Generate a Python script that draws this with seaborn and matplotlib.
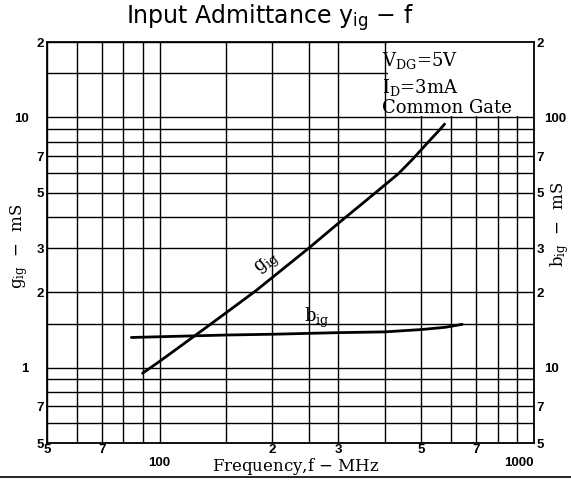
import matplotlib
matplotlib.use("Agg")
import matplotlib.pyplot as plt
from matplotlib.patches import Rectangle
from matplotlib.lines import Line2D
from matplotlib.ticker import FixedLocator, FixedFormatter
import pandas as pd
import seaborn as sns

# --- data ---
g_freq = [90, 100, 135, 180, 250, 305, 365, 434, 476, 519, 559, 577]
g_ig = [0.95, 1.06, 1.47, 2.02, 3.0, 3.85, 4.8, 5.95, 6.85, 7.9, 8.9, 9.4]

b_freq = [84, 150, 200, 300, 400, 500, 580, 643]
b_ig = [13.2, 13.5, 13.6, 13.8, 13.9, 14.2, 14.5, 14.9]

x_major = [100, 1000]
x_major_labels = ["100", "1000"]
x_minor = [50, 60, 70, 80, 90, 150, 200, 250, 300, 400, 500, 600, 700, 800, 900]
x_minor_labels = ["5", "", "7", "", "", "", "2", "", "3", "", "5", "", "7", "", ""]

g_major = [1, 10]
g_major_labels = ["1", "10"]
g_minor = [0.5, 0.6, 0.7, 0.8, 0.9, 1.5, 2, 3, 4, 5, 6, 7, 8, 9, 15, 20]
g_minor_labels = ["5", "", "7", "", "", "", "2", "3", "", "5", "", "7", "", "", "", "2"]

b_major = [10, 100]
b_major_labels = ["10", "100"]
b_minor = [5, 7, 20, 30, 50, 70, 200]
b_minor_labels = ["5", "7", "2", "3", "5", "7", "2"]

g_df = pd.DataFrame({"f": g_freq, "g": g_ig})
b_df = pd.DataFrame({"f": b_freq, "b": b_ig})

sns.set_style("white")
plt.rcParams["font.family"] = ["DejaVu Sans"]
plt.rcParams["mathtext.fontset"] = "dejavuserif"
plt.rcParams["text.color"] = "black"
plt.rcParams["xtick.color"] = "black"
plt.rcParams["ytick.color"] = "black"

fig = plt.figure(figsize=(5.71, 4.93), dpi=100)
ax = fig.add_axes([0.0823, 0.1014, 0.8529, 0.8134])

sns.lineplot(data=g_df, x="f", y="g", ax=ax, color="black", lw=2.0)
ax.set_xscale("log")
ax.set_yscale("log")
ax.set_xlim(50, 1000)
ax.set_ylim(0.5, 20)

tick_font = dict(family="Liberation Sans", weight="bold", size=9.5)

ax.xaxis.set_major_locator(FixedLocator(x_major))
ax.xaxis.set_major_formatter(FixedFormatter(x_major_labels))
ax.xaxis.set_minor_locator(FixedLocator(x_minor))
ax.xaxis.set_minor_formatter(FixedFormatter(x_minor_labels))
ax.yaxis.set_major_locator(FixedLocator(g_major))
ax.yaxis.set_major_formatter(FixedFormatter(g_major_labels))
ax.yaxis.set_minor_locator(FixedLocator(g_minor))
ax.yaxis.set_minor_formatter(FixedFormatter(g_minor_labels))

ax.tick_params(axis="x", which="major", length=0, pad=10)
ax.tick_params(axis="x", which="minor", length=0, pad=1)
ax.tick_params(axis="y", which="major", length=0, pad=13)
ax.tick_params(axis="y", which="minor", length=0, pad=2)
for lab in ax.get_xticklabels(which="both") + ax.get_yticklabels(which="both"):
    lab.set_fontproperties(tick_font)
    lab.set_color("black")
ax.get_xticklabels()[-1].set_horizontalalignment("right")

ax.grid(True, which="both", color="black", lw=1.0)
for s in ax.spines.values():
    s.set_color("black")
    s.set_linewidth(1.3)

# blank area behind the condition text
ax.add_patch(Rectangle((0.70, 0.815), 0.30, 0.185, transform=ax.transAxes,
                       facecolor="white", edgecolor="none", zorder=1))

ax.set_xlabel("")
ax.set_ylabel("")

ax2 = ax.twinx()
sns.lineplot(data=b_df, x="f", y="b", ax=ax2, color="black", lw=2.0)
ax2.set_yscale("log")
ax2.set_ylim(5, 200)
ax2.set_xlim(50, 1000)
ax2.yaxis.set_major_locator(FixedLocator(b_major))
ax2.yaxis.set_major_formatter(FixedFormatter(b_major_labels))
ax2.yaxis.set_minor_locator(FixedLocator(b_minor))
ax2.yaxis.set_minor_formatter(FixedFormatter(b_minor_labels))
ax2.tick_params(axis="y", which="major", length=0, pad=7)
ax2.tick_params(axis="y", which="minor", length=0, pad=2)
for lab in ax2.get_yticklabels(which="both"):
    lab.set_fontproperties(tick_font)
    lab.set_color("black")
ax2.set_ylabel("")
ax2.grid(False)
for s in ax2.spines.values():
    s.set_visible(False)

cond = dict(transform=ax.transAxes, family="DejaVu Serif", fontsize=13,
            va="baseline", zorder=5, color="black")
ax.text(0.688, 0.940, r"V$_{\rm DG}$=5V", **cond)
ax.text(0.688, 0.873, r"I$_{\rm D}$=3mA", **cond)
ax.text(0.688, 0.822, "Common Gate", **cond)

ax.text(195, 2.6, r"$\rm g_{ig}$", family="DejaVu Serif", fontsize=13,
        rotation=38, ha="center", va="center", color="black")
ax2.text(262, 15.8, r"$\rm b_{ig}$", family="DejaVu Serif", fontsize=13,
         ha="center", va="center", color="black")

fig.text(0.518, 0.053, r"Frequency,f $-$ MHz", family="DejaVu Serif",
         fontsize=12, ha="center", va="center", color="black")
fig.text(0.033, 0.50, r"$\rm g_{ig}$  $-$  mS", family="DejaVu Serif",
         fontsize=12, rotation=90, ha="center", va="center", color="black")
fig.text(0.980, 0.545, r"$\rm b_{ig}$  $-$  mS", family="DejaVu Serif",
         fontsize=12, rotation=90, ha="center", va="center", color="black")

fig.text(0.473, 0.962, r"Input Admittance y$_{\mathsf{ig}}$ $-$ f",
         family="DejaVu Sans", fontsize=17, ha="center", va="center",
         color="black")
fig.add_artist(Line2D([0.0, 1.0], [0.032, 0.032], color="black", lw=1.2,
                      transform=fig.transFigure))

fig.savefig("out.png", dpi=100)
